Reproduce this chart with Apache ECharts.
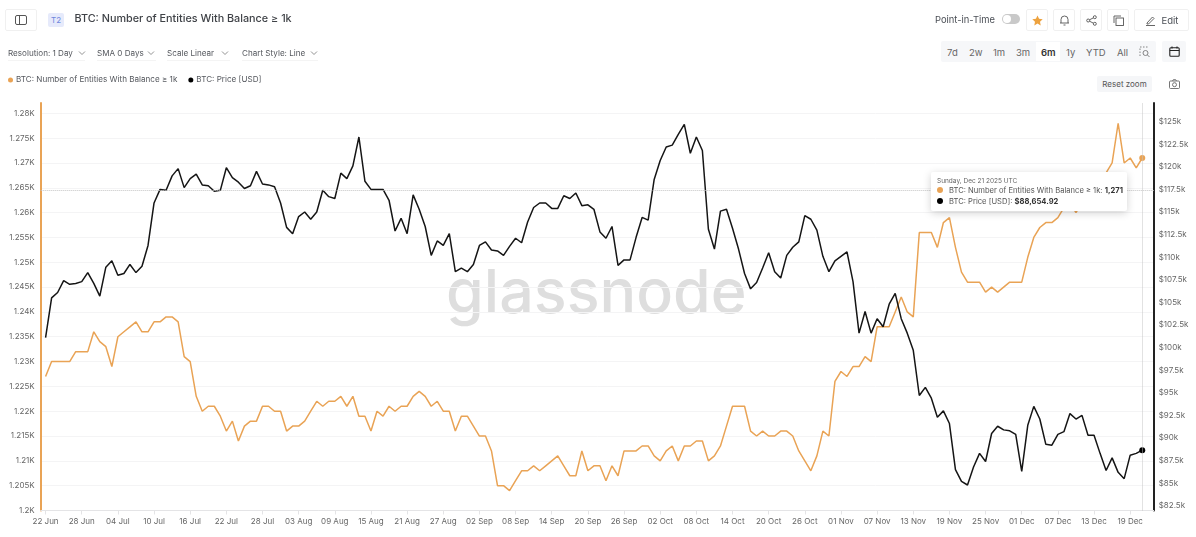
<!DOCTYPE html>
<html>
<head>
<meta charset="utf-8">
<script src="https://cdn.jsdelivr.net/npm/echarts@6/dist/echarts.min.js"></script>
<style>
html, body { margin: 0; padding: 0; background: #fff; }
body { width: 1196px; height: 537px; position: relative; overflow: hidden; font-family: Inter, sans-serif; color: #4b4f56; }
#chart { position: absolute; left: 0; top: 0; width: 1196px; height: 537px; }
.ui { position: absolute; white-space: nowrap; }
.btn { position: absolute; top: 9px; height: 20px; border: 1px solid #f0f0f0; border-radius: 2px; background: #fff; display: flex; align-items: center; justify-content: center; font-size: 9.5px; }
.sel { position: absolute; top: 47px; font-size: 8.1px; line-height: 12px; color: #55585e; padding-bottom: 1px; border-bottom: 1px solid #f4f4f4; white-space: nowrap; }
.rng { position: absolute; top: 46px; font-size: 9.5px; line-height: 13px; color: #666; }
svg { display: block; }
</style>
</head>
<body>
<div id="chart"></div>

<div class="btn" style="left:5px;width:30px">
  <svg width="12" height="10" fill="none" stroke="#555" stroke-width="1"><rect x=".5" y=".5" width="11" height="9" rx="1.5"/><path d="M4.5 .5v9"/></svg>
</div>
<div class="ui" style="left:48px;top:13px;width:16px;height:14px;background:#e6eafb;border-radius:2px;color:#6f86dd;font-size:8px;line-height:14px;text-align:center">T2</div>

<div class="sel" style="left:8px;width:77px">Resolution: 1 Day
  <svg style="position:absolute;left:70px;top:3px" width="8" height="6" fill="none" stroke="#777" stroke-width=".8"><path d="M1 1.5l3 3 3-3"/></svg></div>
<div class="sel" style="left:97px;width:59px">SMA 0 Days
  <svg style="position:absolute;left:50px;top:3px" width="8" height="6" fill="none" stroke="#777" stroke-width=".8"><path d="M1 1.5l3 3 3-3"/></svg></div>
<div class="sel" style="left:167px;width:63px">Scale Linear
  <svg style="position:absolute;left:54px;top:3px" width="8" height="6" fill="none" stroke="#777" stroke-width=".8"><path d="M1 1.5l3 3 3-3"/></svg></div>
<div class="sel" style="left:242px;width:76px">Chart Style: Line
  <svg style="position:absolute;left:68px;top:3px" width="8" height="6" fill="none" stroke="#777" stroke-width=".8"><path d="M1 1.5l3 3 3-3"/></svg></div>

<div class="ui" style="left:935px;top:13px;font-size:9.4px;line-height:13px">Point-in-Time</div>
<div class="ui" style="left:1002px;top:14px;width:18px;height:10px;background:#c9c9c9;border-radius:6px">
  <div style="position:absolute;left:1px;top:1px;width:8px;height:8px;background:#fff;border-radius:50%"></div>
</div>
<div class="btn" style="left:1026px;width:20px">
  <svg width="11" height="11" viewBox="0 0 24 24" fill="#eda23f"><path d="M12 1l3.4 7.3 7.900 1-5.800 5.500 1.500 7.900L12 18.800l-7 3.900 1.500-7.900L.7 9.300l7.900-1z"/></svg>
</div>
<div class="btn" style="left:1053px;width:20px">
  <svg width="11" height="12" fill="none" stroke="#555" stroke-width=".9"><path d="M1 9h9M2 9V5.500a3.500 3.500 0 0 1 7 0V9M4.500 11h2"/></svg>
</div>
<div class="btn" style="left:1080px;width:20px">
  <svg width="11" height="11" fill="none" stroke="#555" stroke-width=".9"><circle cx="2.200" cy="5.500" r="1.500"/><circle cx="8.800" cy="2.200" r="1.500"/><circle cx="8.800" cy="8.800" r="1.500"/><path d="M3.500 4.800l4-2M3.500 6.200l4 2"/></svg>
</div>
<div class="btn" style="left:1107px;width:20px">
  <svg width="11" height="11" fill="none" stroke="#555" stroke-width=".9"><rect x="3" y="3" width="7.500" height="7.500"/><path d="M1 8V1h7"/></svg>
</div>
<div class="btn" style="left:1134px;width:53px">
  <svg width="11" height="11" style="margin-right:6px" fill="none" stroke="#555" stroke-width=".9"><path d="M1 10.500h9M2 8l5.500-6 1.500 1.500L3.500 9H2z"/></svg>Edit
</div>

<div class="ui" style="left:941px;top:41px;width:215px;height:21px;background:#f6f7f9;border-radius:2px"></div>
<div class="ui" style="left:1036px;top:42px;width:24px;height:19px;background:#fff"></div>
<div class="rng" style="left:947px">7d</div>
<div class="rng" style="left:969px">2w</div>
<div class="rng" style="left:993px">1m</div>
<div class="rng" style="left:1016px">3m</div>
<div class="rng" style="left:1041px;color:#333;font-weight:600">6m</div>
<div class="rng" style="left:1066px">1y</div>
<div class="rng" style="left:1086px">YTD</div>
<div class="rng" style="left:1117px">All</div>
<svg class="ui" style="left:1139px;top:46px" width="11" height="12" fill="none" stroke="#777" stroke-width=".9"><path stroke-dasharray="1.500 1.500" d="M1 10V1h8"/><circle cx="6.500" cy="7" r="2.500"/><path d="M8.500 9l2 2"/></svg>
<div class="ui" style="left:1162px;top:41px;width:24px;height:21px;background:#f6f7f9;border-radius:2px"></div>
<svg class="ui" style="left:1169px;top:46px" width="11" height="11" fill="none" stroke="#222" stroke-width="1.100"><rect x=".8" y="1.800" width="9.400" height="8.400" rx="1"/><path d="M.8 4.500h9.400M3 .5v2M8 .5v2"/></svg>

<div class="ui" style="left:1097px;top:76px;width:55px;height:16px;background:#f5f6f8;border-radius:2px;color:#555;font-size:8px;line-height:16px;text-align:center">Reset zoom</div>
<svg class="ui" style="left:1169px;top:79px" width="11" height="10" fill="none" stroke="#666" stroke-width=".9"><rect x=".5" y="2" width="10" height="7.500" rx="1"/><circle cx="5.500" cy="5.700" r="2"/><path d="M3.500 2l.8-1.300h2.400L7.500 2"/></svg>

<script>
// x axis labels, one every 6 days from 22 Jun
var tickLabels = ['22 Jun', '28 Jun', '04 Jul', '10 Jul', '16 Jul', '22 Jul', '28 Jul', '03 Aug', '09 Aug', '15 Aug', '21 Aug', '27 Aug', '02 Sep', '08 Sep', '14 Sep', '20 Sep', '26 Sep', '02 Oct', '08 Oct', '14 Oct', '20 Oct', '26 Oct', '01 Nov', '07 Nov', '13 Nov', '19 Nov', '25 Nov', '01 Dec', '07 Dec', '13 Dec', '19 Dec'];
var tickDays = tickLabels.map(function (l, i) { return i * 6; });

// entities with balance >= 1k, one value per day
var entities = [
  1227, 1230, 1230, 1230, 1230, 1232, 1232, 1232, 1236, 1234, 1233, 1229, 1235, 1236, 1237, 1238, 1236, 1236, 1238, 1238,
  1239, 1239, 1238, 1231, 1230, 1223, 1220, 1221, 1221, 1219, 1216, 1218, 1214, 1217, 1218, 1218, 1221, 1221, 1220, 1220,
  1216, 1217, 1217, 1218, 1220, 1222, 1221, 1222, 1222, 1223, 1221, 1223, 1219, 1219, 1216, 1220, 1219, 1221, 1220, 1221,
  1221, 1223, 1224, 1223, 1221, 1222, 1220, 1220, 1216, 1219, 1219, 1217, 1215, 1215, 1212, 1205, 1205, 1204, 1206, 1208,
  1208, 1209, 1208, 1209, 1210, 1211, 1209, 1207, 1207, 1212, 1208, 1209, 1209, 1206, 1209, 1207, 1212, 1212, 1212, 1213,
  1213, 1211, 1210, 1212, 1213, 1210, 1213, 1213, 1214, 1214, 1210, 1211, 1213, 1217, 1221, 1221, 1221, 1216, 1215, 1216,
  1215, 1215, 1216, 1216, 1215, 1212, 1210, 1208, 1211, 1216, 1215, 1226, 1228, 1227, 1229, 1229, 1231, 1230, 1237, 1237,
  1237, 1240, 1243, 1240, 1239, 1256, 1256, 1256, 1253, 1258, 1259, 1253, 1248, 1246, 1246, 1246, 1244, 1245, 1244, 1245,
  1246, 1246, 1246, 1251, 1255, 1257, 1258, 1258, 1259, 1261, 1262, 1260, 1262, 1264, 1265, 1266, 1268, 1270, 1278, 1270,
  1271, 1269, 1271
];

// BTC price in thousands of USD
var price = [
  101.1, 105.5, 106.1, 107.4, 107.0, 107.1, 107.3, 108.3, 107.1, 105.7, 108.9, 109.6, 108.0, 108.2, 109.2, 108.3, 109.0, 111.3, 116.0, 117.5,
  117.4, 119.0, 119.8, 117.7, 118.7, 119.2, 118.0, 117.9, 117.3, 117.4, 119.9, 118.8, 118.3, 117.6, 117.9, 119.5, 118.1, 118.0, 117.8, 116.0,
  113.3, 112.6, 114.5, 115.0, 114.2, 115.0, 117.4, 116.7, 116.5, 119.3, 118.7, 120.1, 123.3, 118.4, 117.5, 117.5, 117.5, 116.3, 112.9, 114.3,
  112.6, 116.9, 115.3, 113.4, 110.2, 111.8, 111.3, 112.6, 108.4, 108.8, 108.4, 109.2, 111.3, 111.7, 110.8, 110.7, 110.2, 111.2, 112.1, 111.6,
  113.9, 115.5, 116.0, 116.0, 115.4, 115.4, 116.8, 116.5, 117.1, 115.7, 115.8, 115.3, 112.8, 112.1, 113.4, 109.1, 109.7, 109.7, 112.2, 114.4,
  114.1, 118.6, 120.7, 122.2, 122.4, 123.6, 124.7, 121.5, 123.3, 121.8, 113.1, 110.9, 115.1, 115.3, 113.2, 110.9, 108.2, 106.5, 107.2, 108.8,
  110.5, 108.4, 107.7, 110.2, 111.1, 111.7, 114.6, 114.2, 113.0, 110.1, 108.4, 109.6, 110.1, 110.6, 107.3, 101.6, 104.0, 101.6, 103.2, 102.3,
  104.8, 106.0, 103.2, 101.6, 99.7, 94.7, 95.6, 94.4, 92.3, 93.0, 91.6, 86.5, 85.2, 84.8, 86.8, 88.3, 87.4, 90.5, 91.3, 90.9,
  90.8, 90.4, 86.3, 91.4, 93.5, 92.1, 89.3, 89.2, 90.4, 90.7, 92.7, 92.1, 92.5, 90.3, 90.3, 88.3, 86.4, 87.8, 86.2, 85.5,
  88.1, 88.3, 88.65492
];

var priceTicks = [82.5, 85, 87.5, 90, 92.5, 95, 97.5, 100, 102.5, 105, 107.5, 110, 112.5, 115, 117.5, 120, 122.5, 125];

var ORANGE = '#e9a355';
var BLACK = '#151515';
var FONT = 'Inter, sans-serif';
var lastDay = entities.length - 1;

function withDay(v, i) { return [i, v]; }
function lastDot(v, p) { return p.dataIndex === lastDay ? 6 : 0; }

var myecharts = echarts.init(document.getElementById('chart'), null, { renderer: 'canvas' });
var option = {
  animation: false,
  title: {
    text: 'BTC: Number of Entities With Balance ≥ 1k',
    left: 74.5,
    top: 13.5,
    padding: 0,
    textStyle: { fontFamily: FONT, fontSize: 10.8, fontWeight: 500, color: '#3f4247' }
  },
  legend: {
    left: 8,
    top: 76,
    padding: 0,
    icon: 'circle',
    itemWidth: 5,
    itemHeight: 5,
    itemGap: 11,
    textStyle: { fontFamily: FONT, fontSize: 8.1, color: '#55585e', padding: [0, 0, 0, -2] },
    data: ['BTC: Number of Entities With Balance ≥ 1k', 'BTC: Price [USD]']
  },
  tooltip: {
    trigger: 'item',
    triggerOn: 'none',
    alwaysShowContent: true,
    transitionDuration: 0,
    position: [931, 172],
    padding: [4, 5, 4, 6],
    borderWidth: 0,
    backgroundColor: '#fff',
    extraCssText: 'width:185px;height:31px;box-sizing:content-box;border-radius:2px;box-shadow:0 2px 8px rgba(0,0,0,.18);',
    formatter: function () {
      var dot = function (c) {
        return '<span style="display:inline-block;width:6px;height:6px;border-radius:50%;margin-right:6px;background:' + c + '"></span>';
      };
      var usd = (price[lastDay] * 1000).toLocaleString('en-US', { minimumFractionDigits: 2 });
      return '<div style="font:6.5px/10px Inter,sans-serif;color:#666">Sunday, Dec 21 2025 UTC</div>' +
        '<div style="font:7.6px/10.5px Inter,sans-serif;color:#555">' + dot(ORANGE) + 'BTC: Number of Entities With Balance ≥ 1k: <b style="color:#333">' + entities[lastDay].toLocaleString('en-US') + '</b></div>' +
        '<div style="font:7.6px/10.5px Inter,sans-serif;color:#555">' + dot('#000') + 'BTC: Price [USD]: <b style="color:#333">$' + usd + '</b></div>';
    }
  },
  graphic: [{
    type: 'text',
    left: 446,
    top: 264,
    z: 0,
    silent: true,
    style: { text: 'glassnode', fontFamily: 'Inter, sans-serif', fontSize: 61, fontWeight: 500, fill: '#dedede' }
  }],
  grid: { left: 40.7, right: 42.3, top: 103, bottom: 26.5, containLabel: false },
  xAxis: {
    type: 'value',
    min: -0.81,
    max: 183.9,
    splitLine: { show: false },
    axisLine: { onZero: false, lineStyle: { color: '#e4e4e6', width: 1 } },
    axisTick: { customValues: tickDays, length: 4, lineStyle: { color: '#e4e4e6' } },
    axisLabel: {
      customValues: tickDays,
      margin: 7,
      fontFamily: FONT,
      fontSize: 8,
      color: '#666',
      formatter: function (v) { return tickLabels[v / 6]; }
    }
  },
  yAxis: [{
    type: 'value',
    min: 1200,
    max: 1282.08,
    interval: 5,
    axisLine: { show: true, onZero: false, lineStyle: { color: ORANGE, width: 2 } },
    axisTick: { show: false },
    splitLine: { showMaxLine: false, lineStyle: { color: '#f4f4f5', width: 1 } },
    axisLabel: {
      showMaxLabel: false,
      margin: 6,
      fontFamily: FONT,
      fontSize: 8,
      color: '#666',
      formatter: function (v) { return (v / 1000) + 'K'; }
    }
  }, {
    type: 'value',
    position: 'right',
    min: 81.98,
    max: 127.06,
    axisLine: { show: true, onZero: false, lineStyle: { color: '#222', width: 2 } },
    axisTick: { show: false },
    splitLine: { show: false },
    axisLabel: {
      customValues: priceTicks,
      margin: 5,
      fontFamily: FONT,
      fontSize: 8,
      color: '#666',
      formatter: function (v) { return '$' + v + 'k'; }
    }
  }],
  series: [{
    name: 'BTC: Number of Entities With Balance ≥ 1k',
    type: 'line',
    yAxisIndex: 0,
    data: entities.map(withDay),
    symbol: 'circle',
    symbolSize: lastDot,
    showAllSymbol: true,
    itemStyle: { color: ORANGE },
    lineStyle: { color: ORANGE, width: 1.5 },
    z: 3,
    markLine: {
      silent: true,
      symbol: 'none',
      label: { show: false },
      lineStyle: { color: '#c4c4c4', type: 'dotted', width: 1 },
      data: [{ xAxis: lastDay }, { yAxis: 1264.41 }]
    }
  }, {
    name: 'BTC: Price [USD]',
    type: 'line',
    yAxisIndex: 1,
    data: price.map(withDay),
    symbol: 'circle',
    symbolSize: lastDot,
    showAllSymbol: true,
    itemStyle: { color: '#000' },
    lineStyle: { color: BLACK, width: 1.5 },
    z: 4
  }]
};
myecharts.setOption(option);
myecharts.dispatchAction({ type: 'showTip', seriesIndex: 0, dataIndex: lastDay });
</script>
</body>
</html>
